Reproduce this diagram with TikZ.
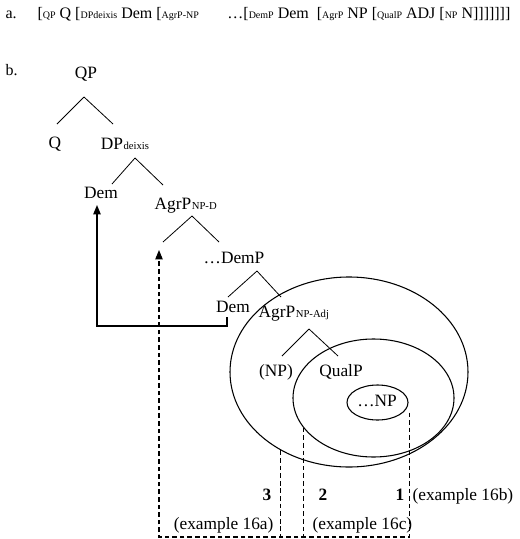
\documentclass[tikz,border=0pt]{standalone}
\usepackage{fontspec}
\setmainfont{Liberation Serif}
\usetikzlibrary{arrows.meta,shapes.geometric}
\newcommand\subl[1]{{\fontsize{7.5}{9}\selectfont #1}}
\tikzset{lbl/.style={inner sep=1pt,anchor=base,font=\fontsize{13}{15}\selectfont},subtag/.style={inner sep=0pt,anchor=base west,font=\fontsize{8}{9}\selectfont},num/.style={lbl,font=\fontsize{13}{15}\selectfont\bfseries},br/.style={line width=0.6pt},ring/.style={draw,ellipse,line width=0.8pt,inner sep=0pt},arr/.style={-{Triangle[length=7pt,width=5.5pt]},line width=1pt},dsh/.style={line width=0.8pt,dash pattern=on 3.5pt off 2.2pt},darr/.style={dsh,-{Triangle[length=7pt,width=5.5pt]}}}
\begin{document}
\begin{tikzpicture}[x=0.75pt,y=-0.75pt]
\useasboundingbox (0,0) rectangle (519,539);
\node[lbl,anchor=base west,font=\fontsize{12}{14}\selectfont] (la) at (4,18) {a.};
\node[lbl,anchor=base west,font=\fontsize{12}{14}\selectfont] (sa) at (36,18) {[\subl{QP} Q [\subl{DPdeixis} Dem [\subl{AgrP-NP}};
\node[lbl,anchor=base east,font=\fontsize{12}{14}\selectfont] (sb) at (512,18) {\ldots[\subl{DemP} Dem\enspace[\subl{AgrP} NP [\subl{QualP} ADJ [\subl{NP} N]]]]]]]};
\node[lbl,anchor=base west,font=\fontsize{12}{14}\selectfont] (lb) at (4,75) {b.};
\node[ring,minimum width=178.5pt,minimum height=142.5pt] (agr-c) at (349,372) {};
\node[ring,minimum width=120.75pt,minimum height=88.5pt] (qual-c) at (373.5,398) {};
\node[ring,minimum width=45.75pt,minimum height=26.25pt] (np-c) at (377.5,402.5) {};
\node[lbl] (qp) at (86,78) {QP};
\node[lbl] (q) at (55,148) {Q};
\node[lbl] (dp) at (112,149) {DP};
\node[subtag] (dp-s) at ([xshift=-1pt]dp.base east) {deixis};
\node[lbl] (dema) at (101,198) {Dem};
\node[lbl] (agrd) at (173,209) {AgrP};
\node[subtag] (agrd-s) at ([xshift=-1pt]agrd.base east) {NP-D};
\node[lbl] (demp) at (234,263) {\ldots DemP};
\node[lbl] (demb) at (233,312) {Dem};
\node[lbl] (agra) at (277,317) {AgrP};
\node[subtag] (agra-s) at ([xshift=-1pt]agra.base east) {NP-Adj};
\node[lbl] (np) at (276,376) {(NP)};
\node[lbl] (qual) at (341,376) {QualP};
\node[lbl] (np-t) at (377,406) {\ldots NP};
\coordinate (trace) at (159,250);
\coordinate (foot) at (159,537);
\draw[br] ([shift={(-2,19)}]qp.base) -- ([shift={(2,-24)}]q.base);
\draw[br] ([shift={(-2,19)}]qp.base) -- ([shift={(1,-25)}]dp.base);
\draw[br] ([shift={(23,9)}]dp.base) -- ([shift={(11,-14)}]dema.base);
\draw[br] ([shift={(23,9)}]dp.base) -- ([shift={(-10,-24)}]agrd.base);
\draw[br] ([shift={(19,7)}]agrd.base) -- ([shift={(4,-8)}]trace);
\draw[br] ([shift={(19,7)}]agrd.base) -- ([shift={(-15,-21)}]demp.base);
\draw[br] ([shift={(23,8)}]demp.base) -- ([shift={(-5,-15)}]demb.base);
\draw[br] ([shift={(23,8)}]demp.base) -- ([shift={(4,-20)}]agra.base);
\draw[br] ([shift={(32,12)}]agra.base) -- ([shift={(6,-20)}]np.base);
\draw[br] ([shift={(32,12)}]agra.base) -- ([shift={(-3,-20)}]qual.base);
\draw[arr] ([shift={(-6,5)}]demb.base) -- ++(0,9) -| ([shift={(-4,7)}]dema.base);
\draw[darr] ([shift={(1,10)}]np-c.east) |- (foot) -- (trace);
\draw[dsh] (agr-c.229) -- (agr-c.229 |- foot);
\draw[dsh] (qual-c.203) -- (qual-c.203 |- foot);
\node[num,anchor=base east] (n3) at (273,500) {3};
\node[num,anchor=base west] (n2) at (317,500) {2};
\node[num,anchor=base east] (n1) at (406,500) {1};
\node[lbl,anchor=base west] (ex16b) at (411,500) {(example 16b)};
\node[lbl,anchor=base east] (ex16a) at (275,529) {(example 16a)};
\node[lbl,anchor=base west] (ex16c) at (311,529) {(example 16c)};
\end{tikzpicture}
\end{document}
